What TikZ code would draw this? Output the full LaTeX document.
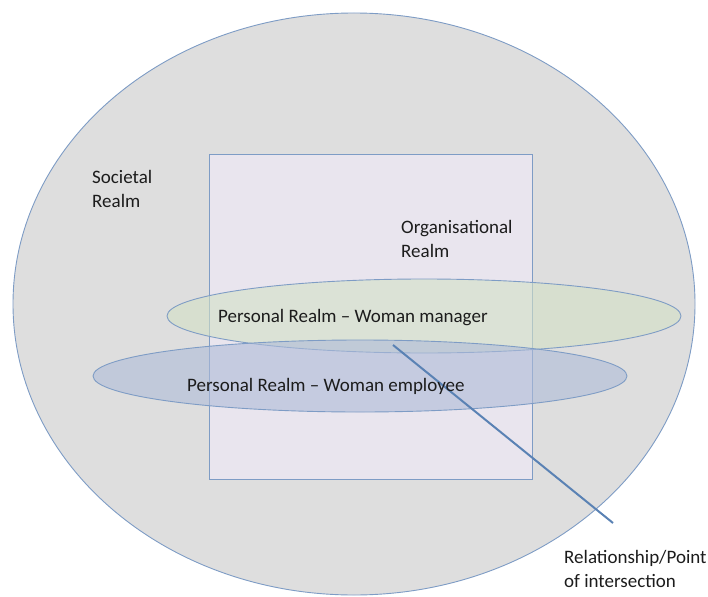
\documentclass[tikz,border=0pt]{standalone}
\usepackage{fontspec}
\setmainfont{Carlito}
\usetikzlibrary{shapes.geometric}
\definecolor{edgeblue}{HTML}{7E9CC5}
\definecolor{linkblue}{HTML}{5A82B4}
\definecolor{societyfill}{HTML}{DEDEDE}
\definecolor{orgfill}{HTML}{E9E5EE}
\definecolor{managerfill}{HTML}{D3E1C6}
\definecolor{employeefill}{HTML}{AEBBD8}
\definecolor{inktext}{HTML}{1C1C1C}
\tikzset{
  realm/.style={draw=edgeblue, line width=0.9pt, inner sep=0pt},
  oval/.style={realm, ellipse},
  personal/.style={oval, fill opacity=0.6, draw opacity=1},
  caption/.style={text=inktext, inner sep=0pt, align=left,
    font=\fontsize{19pt}{23.5pt}\selectfont},
  link/.style={draw=linkblue, line width=2pt}
}
\begin{document}
\begin{tikzpicture}[x=1pt, y=-1pt]
  \useasboundingbox (0,0) rectangle (708,596);

  % societal realm: the large outer oval
  \node[oval, fill=societyfill, minimum width=682pt, minimum height=582pt]
    (society) at (354,304) {};

  % organisational realm: the square in the middle
  \node[realm, rectangle, fill=orgfill, minimum width=323pt, minimum height=325pt]
    (organisation) at (370.5,316.5) {};

  % the two personal realms
  \node[personal, fill=managerfill, minimum width=514pt, minimum height=74pt]
    (manager) at (424,316) {};
  \node[personal, fill=employeefill, minimum width=534pt, minimum height=72pt]
    (employee) at (360,376) {};

  % pointer from the overlap to its label
  \coordinate (meet) at (393,345);
  \coordinate (tail) at (613,523);
  \draw[link] (meet) -- (tail);

  % labels (base anchor of a two-line node sits on its last line)
  \node[caption, anchor=base west] (societytext) at (92,207) {Societal\\Realm};
  \node[caption, anchor=base west] (orgtext) at (401,257) {Organisational\\Realm};
  \node[caption, anchor=base west] (managertext) at (218,322)
    {Personal Realm – Woman manager};
  \node[caption, anchor=base west] (employeetext) at (187,391)
    {Personal Realm – Woman employee};
  \node[caption, anchor=base west] (reltext) at (564,587)
    {Relationship/Point\\of intersection};
\end{tikzpicture}
\end{document}
